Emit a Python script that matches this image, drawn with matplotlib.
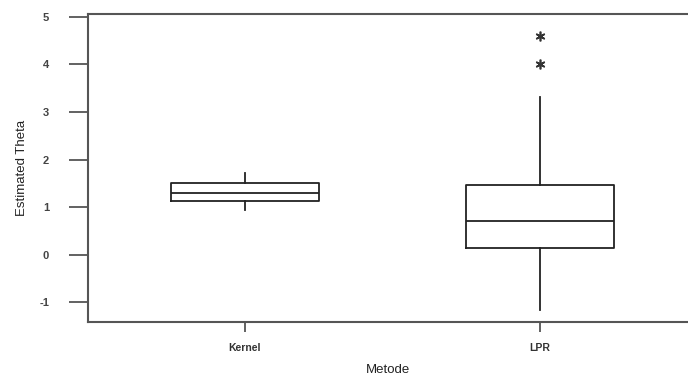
import matplotlib
matplotlib.use("Agg")
import matplotlib.pyplot as plt

categories = ["Kernel", "LPR"]
q1 = [1.14, 0.14]
median = [1.31, 0.71]
q3 = [1.50, 1.47]
whisker_low = [0.94, -1.15]
whisker_high = [1.73, 3.32]
outliers = [[], [4.0, 4.59]]
yticks = [-1, 0, 1, 2, 3, 4, 5]

plt.rcParams['font.family'] = ['Liberation Sans', 'DejaVu Sans']

fig = plt.figure(figsize=(6.88, 3.79), dpi=100)
ax = fig.add_axes([88/688, 1 - 322/379, 1 - 88/688, (322 - 14)/379])

stats = []
for i, c in enumerate(categories):
    stats.append(dict(label=c, q1=q1[i], med=median[i], q3=q3[i],
                      whislo=whisker_low[i], whishi=whisker_high[i],
                      fliers=outliers[i]))

lc = '#222222'
ax.bxp(stats, positions=[1, 2], widths=0.5, showcaps=False,
       boxprops=dict(color=lc, linewidth=1.3),
       medianprops=dict(color=lc, linewidth=1.3),
       whiskerprops=dict(color=lc, linewidth=1.3),
       flierprops=dict(marker=(6, 2, 0), markersize=7, markeredgecolor='#333333',
                       markeredgewidth=1.2, linestyle='none'))

ax.set_xlim(0.468, 2.502)
ax.set_ylim(-1.41, 5.06)
ax.set_yticks(yticks)
ax.set_yticklabels([str(v) for v in yticks])

sc = '#555555'
for s in ['left', 'top', 'bottom']:
    ax.spines[s].set_color(sc)
    ax.spines[s].set_linewidth(1.5)
ax.spines['right'].set_visible(False)

ax.tick_params(axis='y', length=14, width=1.3, color=sc, labelsize=8,
               labelcolor='#444444', pad=14)
ax.tick_params(axis='x', length=7, width=1.3, color=sc, labelsize=7.5,
               labelcolor='#333333', pad=8)
for lab in ax.get_xticklabels() + ax.get_yticklabels():
    lab.set_fontweight('bold')

ax.set_ylabel('Estimated Theta', fontsize=9.5, color='#222222', labelpad=8)
ax.set_xlabel('Metode', fontsize=9.5, color='#222222', labelpad=8)

fig.savefig('out.png', dpi=100)
